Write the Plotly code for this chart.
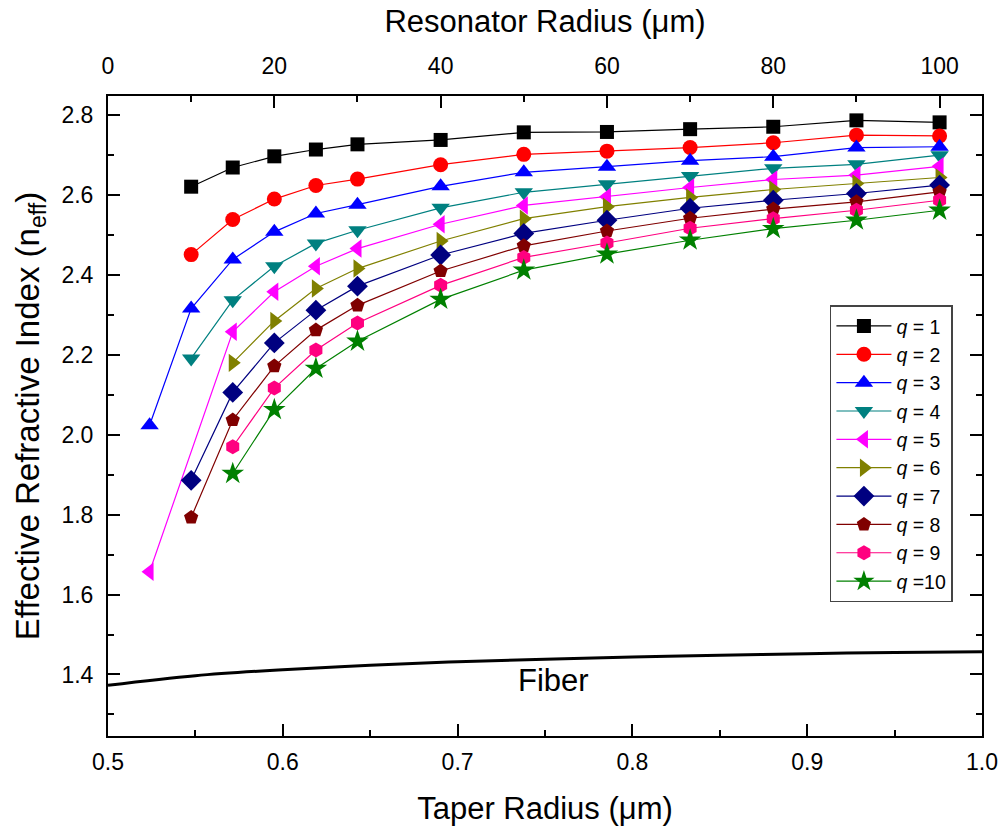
import plotly.graph_objects as go

# Resonator radius (µm) at which the modes were computed
radius = [5, 10, 15, 20, 25, 30, 40, 50, 60, 70, 80, 90, 100]

# Effective index for each radial mode order q (None = mode not supported)
q1 = [None, 2.621, 2.669, 2.697, 2.714, 2.727, 2.738, 2.757, 2.758, 2.765, 2.771, 2.787, 2.782]
q2 = [None, 2.451, 2.539, 2.590, 2.624, 2.640, 2.676, 2.702, 2.710, 2.719, 2.731, 2.750, 2.748]
q3 = [2.024, 2.316, 2.439, 2.508, 2.554, 2.576, 2.622, 2.657, 2.671, 2.686, 2.696, 2.719, 2.721]
q4 = [None, 2.191, 2.337, 2.422, 2.479, 2.512, 2.568, 2.607, 2.627, 2.648, 2.667, 2.677, 2.700]
q5 = [1.657, None, 2.258, 2.358, 2.422, 2.466, 2.527, 2.574, 2.596, 2.619, 2.639, 2.650, 2.672]
q6 = [None, None, 2.180, 2.285, 2.366, 2.416, 2.485, 2.541, 2.571, 2.594, 2.614, 2.629, 2.644]
q7 = [None, 1.886, 2.106, 2.230, 2.312, 2.372, 2.450, 2.504, 2.537, 2.567, 2.587, 2.604, 2.625]
q8 = [None, 1.793, 2.037, 2.172, 2.262, 2.324, 2.410, 2.473, 2.510, 2.542, 2.565, 2.583, 2.608]
q9 = [None, None, 1.970, 2.117, 2.212, 2.280, 2.374, 2.444, 2.480, 2.517, 2.541, 2.562, 2.587]
q10 = [None, None, 1.903, 2.063, 2.166, 2.234, 2.339, 2.412, 2.452, 2.487, 2.516, 2.537, 2.562]

series = [q1, q2, q3, q4, q5, q6, q7, q8, q9, q10]
names = ["q = 1", "q = 2", "q = 3", "q = 4", "q = 5",
         "q = 6", "q = 7", "q = 8", "q = 9", "q =10"]
colors = ["#000000", "#FF0000", "#0000FF", "#008080", "#FF00FF",
          "#808000", "#000080", "#800000", "#FF0080", "#008000"]
symbols = ["square", "circle", "triangle-up", "triangle-down", "triangle-left",
           "triangle-right", "diamond", "pentagon", "hexagon", "star"]
sizes = [14, 15, 16, 16, 16, 16, 16, 15, 15, 17]

# Fiber mode effective index vs taper radius (µm)
taper_r = [0.50, 0.55, 0.60, 0.65, 0.70, 0.75, 0.80, 0.85, 0.90, 0.95, 1.00]
fiber_n = [1.373, 1.397, 1.412, 1.423, 1.432, 1.438, 1.444, 1.448, 1.452, 1.455, 1.457]

FONT = "Arial, 'Liberation Sans', sans-serif"

fig = go.Figure()

# Fiber curve on the bottom (taper radius) axis
fig.add_trace(go.Scatter(
    x=taper_r, y=fiber_n, mode="lines", line=dict(color="black", width=3, shape="spline"),
    showlegend=False, xaxis="x", yaxis="y"))

# Resonator modes on the top (resonator radius) axis
for name, ys, c, s, sz in zip(names, series, colors, symbols, sizes):
    label = "<i>q</i>" + name[1:]
    fig.add_trace(go.Scatter(
        x=radius, y=ys, name=label, mode="lines+markers",
        connectgaps=True,
        line=dict(color=c, width=1.2),
        marker=dict(symbol=s, color=c, size=sz, line=dict(width=0)),
        xaxis="x2", yaxis="y"))

fig.add_annotation(x=0.755, y=1.385, xref="x", yref="y", text="Fiber",
                   showarrow=False, font=dict(family=FONT, size=31, color="black"))

axis_common = dict(showgrid=False, zeroline=False, showline=True, linecolor="black",
                   linewidth=2, ticks="inside", tickwidth=2, tickcolor="black",
                   automargin=False,
                   tickfont=dict(family=FONT, size=23, color="black"))

TITLE_FONT = dict(family=FONT, size=31, color="black")

fig.update_layout(
    width=1001, height=827,
    margin=dict(l=108, r=19, t=96, b=91),
    paper_bgcolor="white", plot_bgcolor="white",
    font=dict(family=FONT, color="black"),
    xaxis=dict(range=[0.5, 1.0], dtick=0.1, tick0=0.5, ticklen=12, tickformat=".1f",
               ticklabelstandoff=4,
               minor=dict(dtick=0.05, ticks="inside", ticklen=6, tickwidth=2, tickcolor="black"),
               title=dict(text="Taper Radius (μm)", font=TITLE_FONT, standoff=24),
               **axis_common),
    xaxis2=dict(range=[0, 105.1], dtick=20, tick0=0, ticklen=12, overlaying="x", side="top",
                ticklabelstandoff=11,
                minor=dict(dtick=10, ticks="inside", ticklen=6, tickwidth=2, tickcolor="black"),
                title=dict(text="Resonator Radius (μm)", font=TITLE_FONT, standoff=11),
                **axis_common),
    yaxis=dict(range=[1.246, 2.848], dtick=0.2, tick0=1.4, ticklen=12, tickformat=".1f",
               mirror="ticks", ticklabelstandoff=8,
               minor=dict(dtick=0.1, ticks="inside", ticklen=6, tickwidth=2, tickcolor="black"),
               title=dict(text="Effective Refractive Index (n<sub>eff</sub>)",
                          font=dict(family=FONT, size=33, color="black"), standoff=12),
               **axis_common),
    legend=dict(x=0.826, y=0.673, xanchor="left", yanchor="top",
                bordercolor="#444444", borderwidth=1.5, bgcolor="white",
                font=dict(family=FONT, size=19.5, color="black"),
                tracegroupgap=0, itemwidth=55),
)

fig.write_html("out.html")
